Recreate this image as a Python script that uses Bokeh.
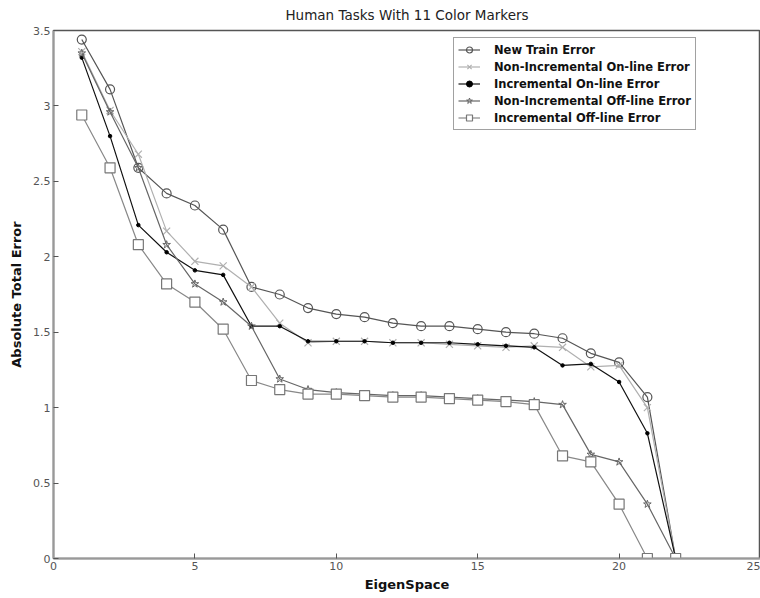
from bokeh.plotting import figure
from bokeh.models import Range1d, Legend, LegendItem, FixedTicker
from bokeh.embed import file_html
from bokeh.resources import INLINE

x = [1, 2, 3, 4, 5, 6, 7, 8, 9, 10, 11, 12, 13, 14, 15, 16, 17, 18, 19, 20, 21, 22]
new_train = [3.44, 3.11, 2.59, 2.42, 2.34, 2.18, 1.80, 1.75, 1.66, 1.62, 1.60, 1.56, 1.54, 1.54, 1.52, 1.50, 1.49, 1.46, 1.36, 1.30, 1.07, 0.0]
nonincr_online = [3.36, 2.97, 2.68, 2.17, 1.97, 1.94, 1.80, 1.56, 1.43, 1.44, 1.44, 1.43, 1.43, 1.42, 1.41, 1.40, 1.41, 1.40, 1.27, 1.28, 1.00, 0.0]
incr_online = [3.32, 2.80, 2.21, 2.03, 1.91, 1.88, 1.54, 1.54, 1.44, 1.44, 1.44, 1.43, 1.43, 1.43, 1.42, 1.41, 1.40, 1.28, 1.29, 1.17, 0.83, 0.0]
nonincr_offline = [3.35, 2.96, 2.59, 2.08, 1.82, 1.70, 1.54, 1.19, 1.12, 1.10, 1.09, 1.08, 1.08, 1.07, 1.06, 1.05, 1.04, 1.02, 0.69, 0.64, 0.36, 0.0]
incr_offline = [2.94, 2.59, 2.08, 1.82, 1.70, 1.52, 1.18, 1.12, 1.09, 1.09, 1.08, 1.07, 1.07, 1.06, 1.05, 1.04, 1.02, 0.68, 0.64, 0.36, 0.0, 0.0]

x_ticks = [0, 5, 10, 15, 20, 25]
y_ticks = [0, 0.5, 1, 1.5, 2, 2.5, 3, 3.5]

FONT = "DejaVu Sans"

p = figure(width=760, height=598, output_backend="svg", toolbar_location=None,
           x_range=Range1d(0, 25), y_range=Range1d(0, 3.5),
           title="Human Tasks With 11 Color Markers",
           min_border_left=53, min_border_right=0, min_border_top=30, min_border_bottom=40)
p.title.align = "center"
p.title.vertical_align = "top"
p.title.text_font = FONT
p.title.text_font_size = "13.5px"
p.title.text_font_style = "normal"
p.title.text_color = "#222222"
p.title.standoff = 12
p.title.offset = 0

p.grid.visible = False
p.outline_line_color = "#555555"
p.outline_line_width = 1.5
p.background_fill_color = "white"
p.border_fill_color = "white"

for ax in (p.xaxis[0], p.yaxis[0]):
    ax.axis_line_color = "#999999"
    ax.axis_line_width = 2
    ax.major_tick_in = 5
    ax.major_tick_out = 0
    ax.major_tick_line_color = "#555555"
    ax.minor_tick_line_color = None
    ax.major_label_text_font = FONT
    ax.major_label_text_font_size = "11px"
    ax.major_label_text_color = "#555555"
    ax.axis_label_text_font = FONT
    ax.axis_label_text_font_size = "13px"
    ax.axis_label_text_font_style = "bold"
    ax.axis_label_text_color = "#111111"
    ax.major_label_standoff = 3

p.xaxis.axis_label_standoff = 4
p.yaxis.axis_label_standoff = 6
p.xaxis.ticker = FixedTicker(ticks=x_ticks)
p.yaxis.ticker = FixedTicker(ticks=y_ticks)
p.xaxis.axis_label = "EigenSpace"
p.yaxis.axis_label = "Absolute Total Error"

items = []

l1 = p.line(x, new_train, line_color="#555555", line_width=1.2)
s1 = p.scatter(x, new_train, marker="circle", size=9, line_color="#555555", fill_alpha=0, line_width=1.2)
items.append(LegendItem(label="New Train Error", renderers=[l1, s1]))

l2 = p.line(x, nonincr_online, line_color="#b0b0b0", line_width=1.2)
s2 = p.scatter(x, nonincr_online, marker="x", size=10, line_color="#b0b0b0", line_width=1.2)
items.append(LegendItem(label="Non-Incremental On-line Error", renderers=[l2, s2]))

l3 = p.line(x, incr_online, line_color="#111111", line_width=1.2)
s3 = p.scatter(x, incr_online, marker="circle", size=3.5, line_color="#000000", fill_color="#000000")
items.append(LegendItem(label="Incremental On-line Error", renderers=[l3, s3]))

l4 = p.line(x, nonincr_offline, line_color="#666666", line_width=1.2)
s4 = p.scatter(x, nonincr_offline, marker="star", size=8, line_color="#666666", fill_alpha=0, line_width=1)
items.append(LegendItem(label="Non-Incremental Off-line Error", renderers=[l4, s4]))

l5 = p.line(x, incr_offline, line_color="#888888", line_width=1.2)
s5 = p.scatter(x, incr_offline, marker="square", size=10, line_color="#777777", fill_color="white", line_width=1.2)
items.append(LegendItem(label="Incremental Off-line Error", renderers=[l5, s5]))

legend = Legend(items=items, location=(400, 428))
legend.label_text_font = FONT
legend.label_text_font_size = "11.5px"
legend.label_text_font_style = "bold"
legend.label_text_color = "#111111"
legend.border_line_color = "#444444"
legend.border_line_width = 1
legend.background_fill_color = "white"
legend.background_fill_alpha = 1
legend.padding = 4
legend.spacing = 2
legend.label_height = 15
legend.glyph_height = 15
legend.glyph_width = 22
legend.label_standoff = 14
legend.margin = 0
p.add_layout(legend, "center")

open("out.html", "w").write(file_html(p, INLINE))
